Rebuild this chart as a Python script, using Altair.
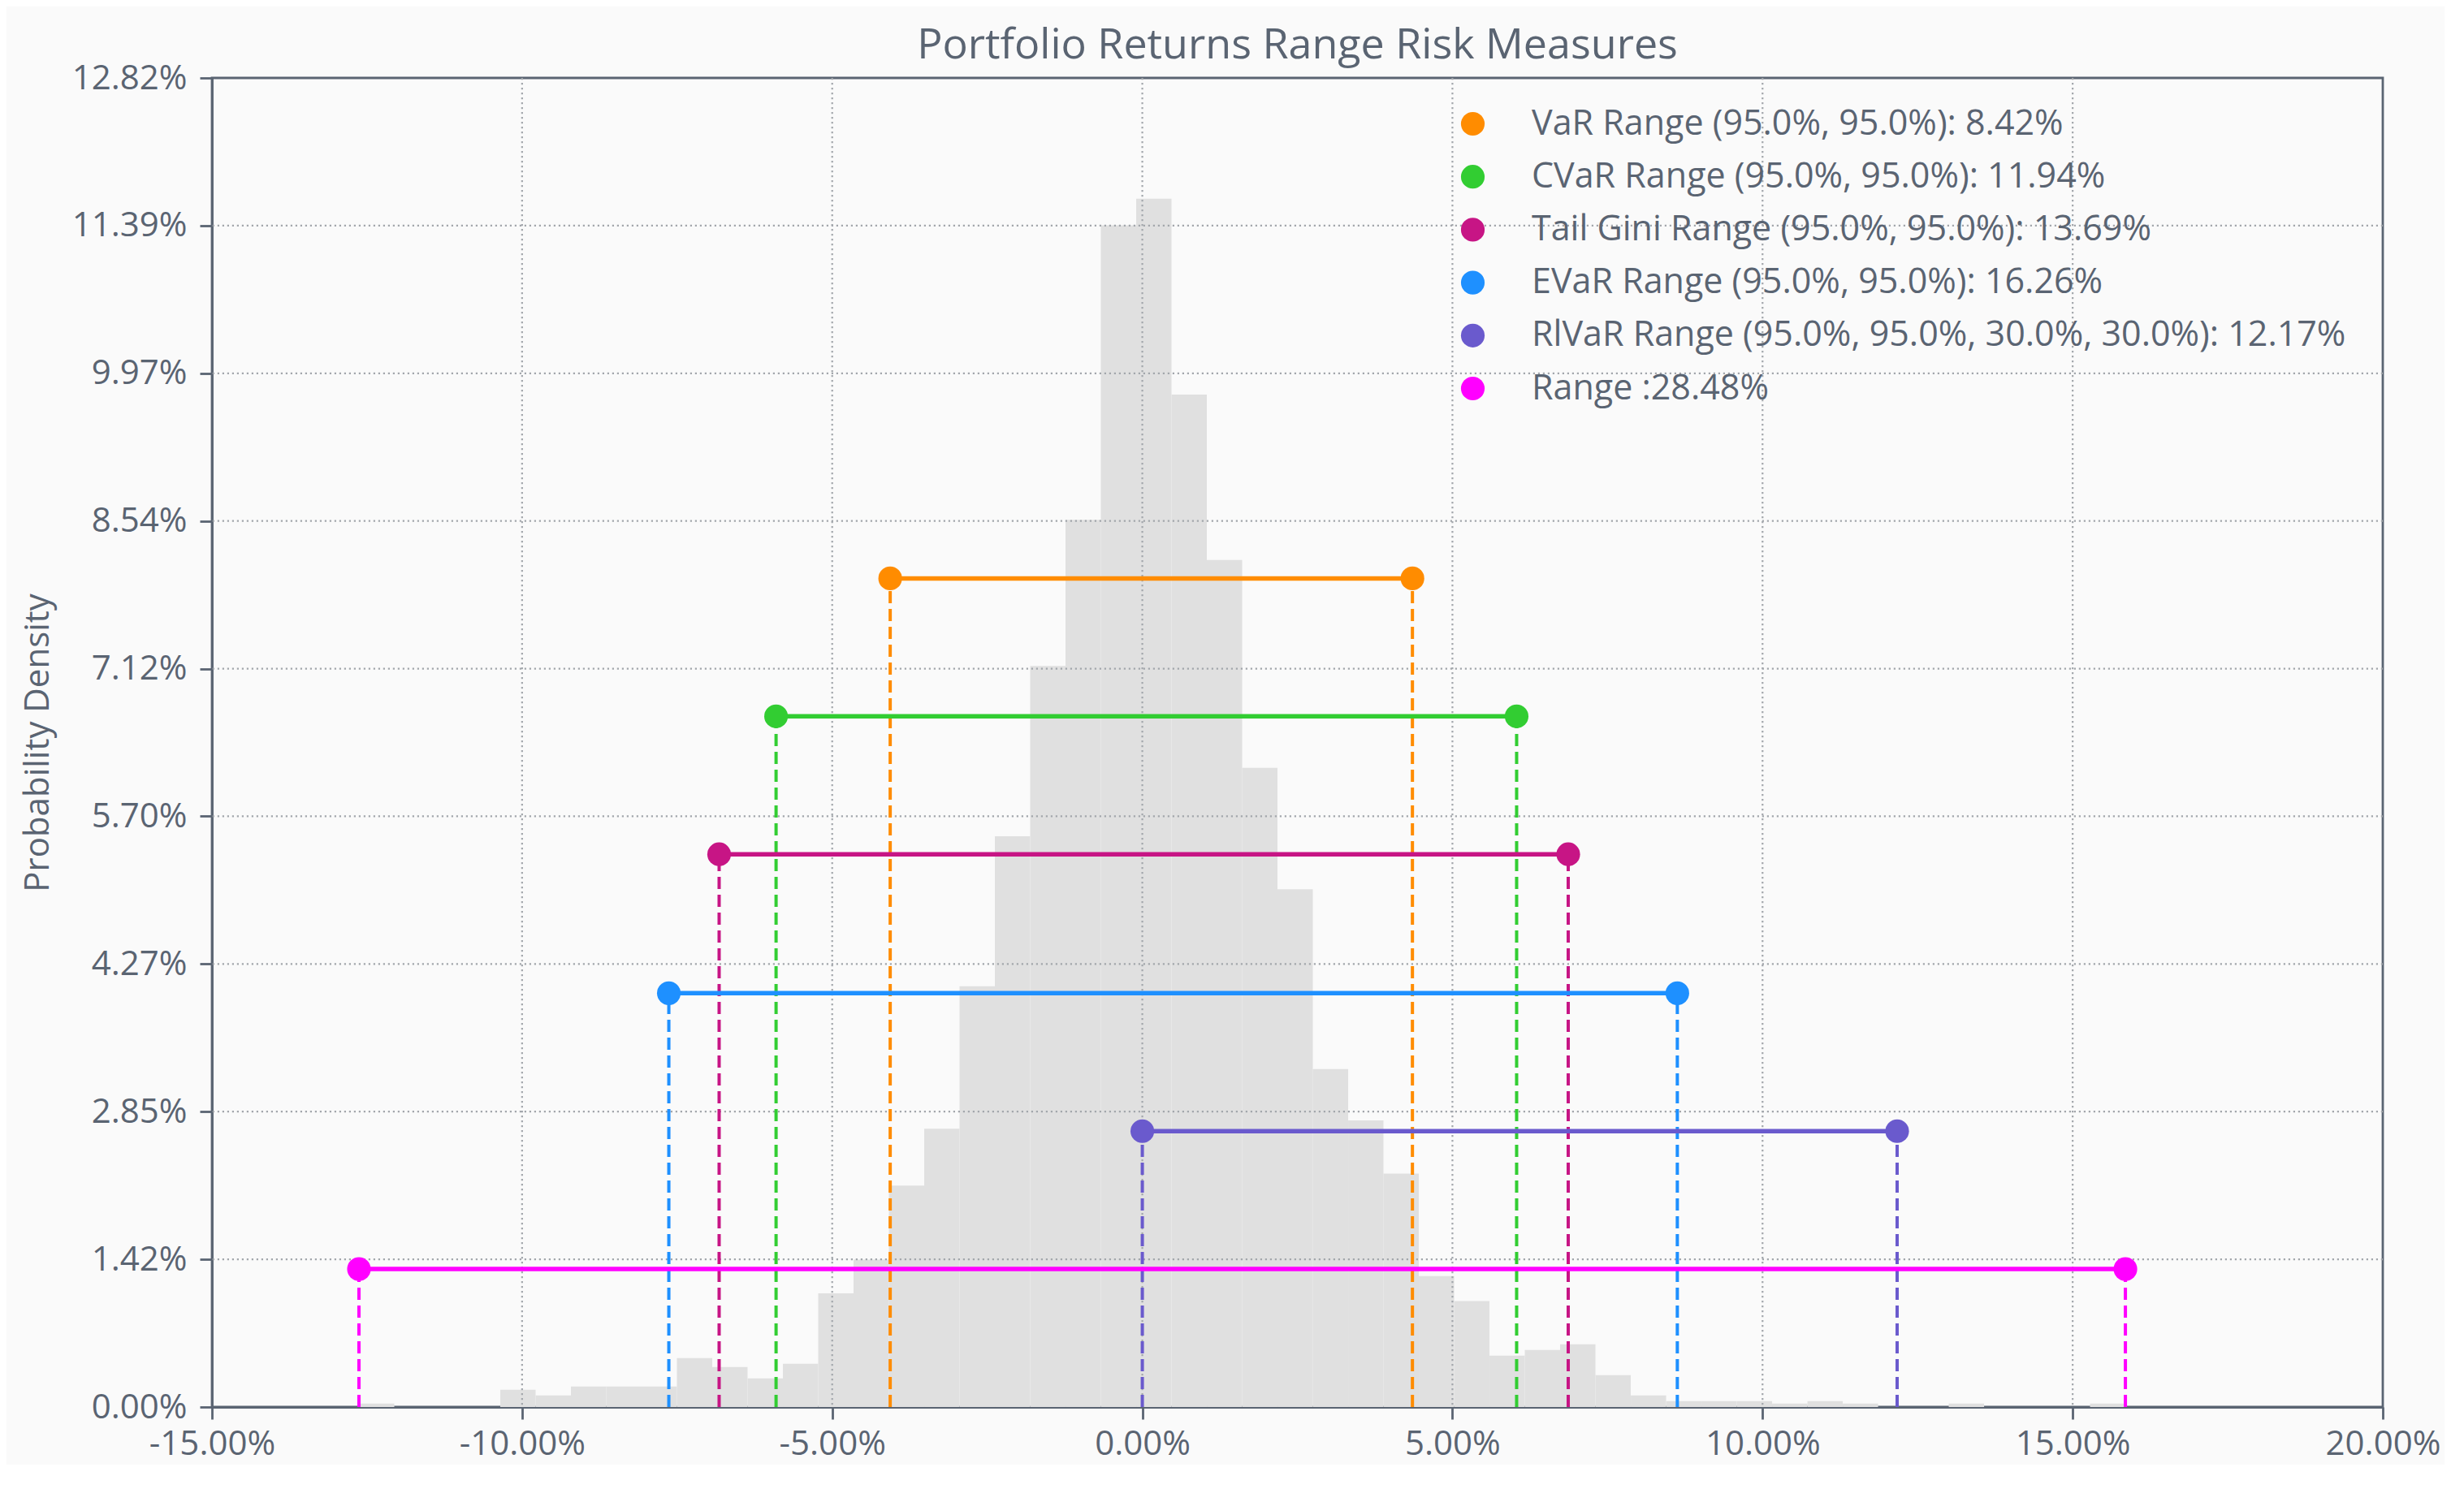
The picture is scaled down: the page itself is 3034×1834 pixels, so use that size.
import altair as alt
import numpy as np
import pandas as pd

# ---------------- data ----------------
range_min = -0.1263
range_max = 0.1585

# histogram heights (in percent), 50 equal-width bins from range_min to range_max
hist_heights = [
    0.034, 0.0, 0.0, 0.0, 0.167, 0.112, 0.198, 0.198, 0.198, 0.471,
    0.385, 0.276, 0.417, 1.097, 1.420, 2.136, 2.684, 4.057, 5.504, 7.146,
    8.555, 11.396, 11.651, 9.762, 8.168, 6.163, 4.993, 3.259, 2.764, 2.251,
    1.262, 1.021, 0.496, 0.550, 0.605, 0.308, 0.112, 0.057, 0.057, 0.057,
    0.034, 0.057, 0.034, 0.0, 0.0, 0.034, 0.0, 0.0, 0.0, 0.034,
]

labels = [
    "VaR Range (95.0%, 95.0%): 8.42%",
    "CVaR Range (95.0%, 95.0%): 11.94%",
    "Tail Gini Range (95.0%, 95.0%): 13.69%",
    "EVaR Range (95.0%, 95.0%): 16.26%",
    "RlVaR Range (95.0%, 95.0%, 30.0%, 30.0%): 12.17%",
    "Range :28.48%",
]
colors = ["#FF8C00", "#32CD32", "#C71585", "#1E90FF", "#6A5ACD", "#FF00FF"]
lower = [-0.04065, -0.05905, -0.06823, -0.07634, 0.0000, -0.1263]
upper = [0.04355, 0.06035, 0.06867, 0.08626, 0.1217, 0.1585]
levels = [0.0799, 0.0666, 0.0533, 0.0399, 0.0266, 0.0133]

x_ticks = [-0.15, -0.10, -0.05, 0.0, 0.05, 0.10, 0.15, 0.20]
y_max = 0.12816
y_ticks = [y_max * i / 9 for i in range(10)]

# ---------------- tables ----------------
edges = np.linspace(range_min, range_max, len(hist_heights) + 1)
hist_df = pd.DataFrame({
    "x0": edges[:-1],
    "x1": edges[1:],
    "h": np.array(hist_heights) / 100.0,
    "zero": 0.0,
})
meas_df = pd.DataFrame({"label": labels, "lo": lower, "hi": upper, "level": levels})
pts_df = pd.DataFrame({
    "label": labels + labels,
    "x": lower + upper,
    "level": levels + levels,
    "zero": 0.0,
})
xgrid_df = pd.DataFrame({"gx": x_ticks[1:-1]})
ygrid_df = pd.DataFrame({"gy": y_ticks[1:-1]})

# ---------------- style ----------------
FONT = "Open Sans"
TXT = "#5a6472"
BG = "#fafafa"
GRID = "#a3a7ac"

xs = alt.Scale(domain=[-0.15, 0.20], nice=False, zero=False)
ys = alt.Scale(domain=[0, y_max], nice=False, zero=True)
cs = alt.Scale(domain=labels, range=colors)

lbl_expr = "replace(format(datum.value, '.2%'), '\u2212', '-')"

x_axis = alt.Axis(
    values=x_ticks, labelExpr=lbl_expr, title=None, grid=False,
    labelFontSize=42, labelColor=TXT, labelFont=FONT, labelPadding=10,
    tickSize=15, tickWidth=2.8, tickColor=TXT,
    domainColor=TXT, domainWidth=2.8, labelFlush=False, labelOverlap=False,
)
y_axis = alt.Axis(
    values=y_ticks, labelExpr=lbl_expr, title="Probability Density", grid=False,
    labelFontSize=42, labelColor=TXT, labelFont=FONT, labelPadding=16,
    tickSize=15, tickWidth=2.8, tickColor=TXT,
    domainColor=TXT, domainWidth=2.8, labelOverlap=False,
    titleFontSize=42, titleFont=FONT, titleFontWeight="normal",
    titleColor=TXT, titlePadding=20,
)


def X(field):
    return alt.X(field, scale=xs, axis=x_axis, title=None)


def Y(field):
    return alt.Y(field, scale=ys, axis=y_axis, title="Probability Density")


hist = alt.Chart(hist_df).mark_rect(color="#e0e0e0").encode(
    x=X("x0:Q"), x2="x1:Q", y=Y("zero:Q"), y2="h:Q",
)

xgrid = alt.Chart(xgrid_df).mark_rule(
    color=GRID, strokeWidth=2.2, strokeDash=[2.2, 3.8]
).encode(x=X("gx:Q"))

ygrid = alt.Chart(ygrid_df).mark_rule(
    color=GRID, strokeWidth=2.2, strokeDash=[2.2, 3.8]
).encode(y=Y("gy:Q"))

dashed = alt.Chart(pts_df).mark_rule(strokeWidth=4, strokeDash=[15, 7]).encode(
    x=X("x:Q"), y=Y("zero:Q"), y2="level:Q",
    color=alt.Color("label:N", scale=cs, legend=None),
)

solid = alt.Chart(meas_df).mark_rule(strokeWidth=5.5).encode(
    x=X("lo:Q"), x2="hi:Q", y=Y("level:Q"),
    color=alt.Color("label:N", scale=cs, legend=None),
)

points = alt.Chart(pts_df).mark_circle(size=850, opacity=1).encode(
    x=X("x:Q"), y=Y("level:Q"),
    color=alt.Color(
        "label:N", scale=cs,
        legend=alt.Legend(
            title=None, orient="none", legendX=1531, legendY=35,
            symbolType="circle", symbolSize=850, symbolStrokeWidth=0,
            symbolOpacity=1,
            labelFontSize=43, labelFont=FONT, labelColor=TXT,
            labelOffset=51, rowPadding=21.2, padding=0, labelLimit=2000,
        ),
    ),
)

chart = alt.layer(hist, ygrid, xgrid, dashed, solid, points).resolve_scale(
    color="independent"
).properties(
    width=2673,
    height=1637,
    background=BG,
    padding={"left": 17, "top": 22, "right": 5, "bottom": 5},
    title=alt.TitleParams(
        "Portfolio Returns Range Risk Measures",
        fontSize=52, font=FONT, fontWeight="normal", color=TXT,
        offset=-8, anchor="middle", frame="group",
    ),
).configure(font=FONT).configure_view(
    stroke=TXT, strokeWidth=2.8, fill=BG
)

chart.save("out.html", embed_options={"renderer": "svg", "actions": False})
